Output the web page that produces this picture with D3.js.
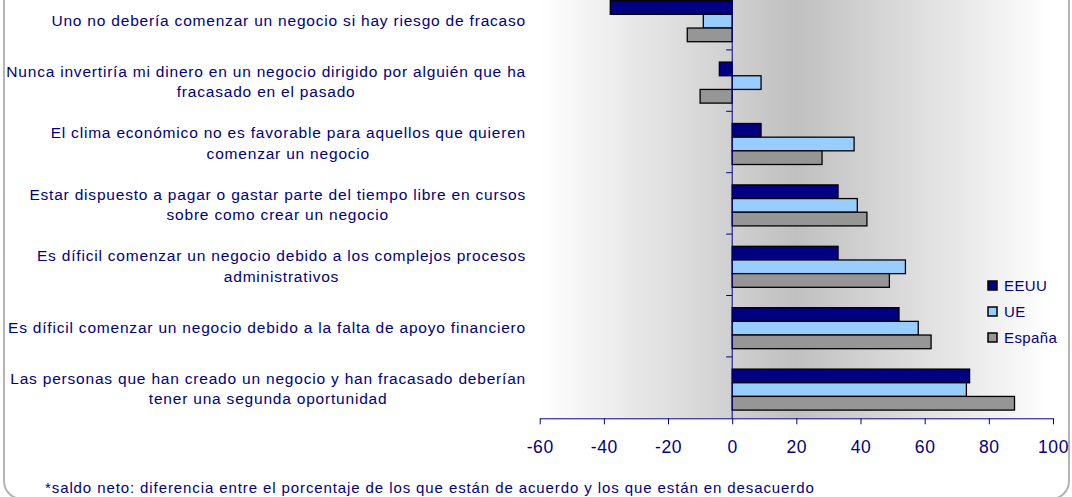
<!DOCTYPE html>
<html>
<head>
<meta charset="utf-8">
<style>
  body { margin: 0; background: #fff; }
  svg { display: block; font-family: "Liberation Sans", Arial, sans-serif; }
  .catLabel { font-size: 15.5px; fill: #000080; }
  .tickLabel { font-size: 17.5px; fill: #000080; }
  .legendText { font-size: 15px; fill: #000080; }
  .note { font-size: 15px; fill: #000080; }
</style>
</head>
<body>
<svg id="chart" width="1072" height="497"></svg>
<script src="https://d3js.org/d3.v7.min.js"></script>
<script>

// categories, top to bottom as shown
var categories = [
  ["Uno no debería comenzar un negocio si hay riesgo de fracaso"],
  ["Nunca invertiría mi dinero en un negocio dirigido por alguién que ha", "fracasado en el pasado"],
  ["El clima económico no es favorable para aquellos que quieren", "comenzar un negocio"],
  ["Estar dispuesto a pagar o gastar parte del tiempo libre en cursos", "sobre como crear un negocio"],
  ["Es díficil comenzar un negocio debido a los complejos procesos", "administrativos"],
  ["Es díficil comenzar un negocio debido a la falta de apoyo financiero"],
  ["Las personas que han creado un negocio y han fracasado deberían", "tener una segunda oportunidad"]
];

var seriesNames = ["EEUU", "UE", "España"];
var eeuu   = [-38, -4,  9, 33, 33, 52, 74];
var ue     = [ -9,  9, 38, 39, 54, 58, 73];
var espana = [-14, -10, 28, 42, 49, 62, 88];
var seriesColors = ["#000080", "#99ccff", "#969696"];

var xTicks = [-60, -40, -20, 0, 20, 40, 60, 80, 100];
var footnote = "*saldo neto: diferencia entre el porcentaje de los que están de acuerdo y los que están en desacuerdo";

var seriesValues = [eeuu, ue, espana];

var svg = d3.select("#chart");

// outer frame (top is cut off in the picture)
svg.append("rect")
    .attr("x", 4).attr("y", -32)
    .attr("width", 1065).attr("height", 531)
    .attr("rx", 18)
    .attr("fill", "#fff")
    .attr("stroke", "#b4b4b4")
    .attr("stroke-width", 2);

var x = d3.scaleLinear().domain([-60, 100]).range([539.7, 1053]);
var y0 = d3.scaleBand().domain(d3.range(categories.length)).range([-11.5, 418.3]);
var y1 = d3.scaleBand().domain(d3.range(seriesNames.length)).range([0, 41]);

// plot background gradient
var defs = svg.append("defs");
var grad = defs.append("linearGradient").attr("id", "bg")
    .attr("x1", "0%").attr("x2", "100%").attr("y1", "0%").attr("y2", "0%");
grad.append("stop").attr("offset", "0%").attr("stop-color", "#ffffff");
grad.append("stop").attr("offset", "50%").attr("stop-color", "#c0c0c0");
grad.append("stop").attr("offset", "100%").attr("stop-color", "#ffffff");

svg.append("rect")
    .attr("x", x(-60)).attr("y", y0.range()[0])
    .attr("width", x(100) - x(-60))
    .attr("height", y0.range()[1] - y0.range()[0])
    .attr("fill", "url(#bg)");

// bars
var groups = svg.selectAll("g.cat")
  .data(categories)
  .enter().append("g")
    .attr("class", "cat")
    .attr("transform", function(d, i) { return "translate(0," + (y0(i) + 12.2) + ")"; });

groups.selectAll("rect")
  .data(function(d, i) { return seriesValues.map(function(s, j) { return {s: j, v: s[i]}; }); })
  .enter().append("rect")
    .attr("x", function(d) { return x(Math.min(0, d.v)); })
    .attr("y", function(d) { return y1(d.s); })
    .attr("width", function(d) { return Math.abs(x(d.v) - x(0)); })
    .attr("height", y1.bandwidth())
    .attr("fill", function(d) { return seriesColors[d.s]; })
    .attr("stroke", "#000")
    .attr("stroke-width", 1.3);

// vertical axis at zero with ticks between categories
svg.append("line")
    .attr("x1", x(0)).attr("x2", x(0))
    .attr("y1", y0.range()[0]).attr("y2", y0.range()[1])
    .attr("stroke", "#000080").attr("stroke-width", 1);
svg.selectAll("line.ytick")
  .data(d3.range(1, categories.length))
  .enter().append("line")
    .attr("class", "ytick")
    .attr("x1", x(0) - 6).attr("x2", x(0))
    .attr("y1", function(i) { return y0(i); })
    .attr("y2", function(i) { return y0(i); })
    .attr("stroke", "#000080");

// bottom axis
var xAxis = svg.append("g")
    .attr("transform", "translate(0," + y0.range()[1] + ")")
    .call(d3.axisBottom(x).tickValues(xTicks).tickSize(6).tickSizeOuter(0).tickPadding(16)
      .tickFormat(function(d) { return String(d); }));
xAxis.attr("font-size", null).attr("font-family", null);
xAxis.select(".domain").attr("stroke", "#000080");
xAxis.selectAll(".tick line").attr("stroke", "#000080");
xAxis.selectAll(".tick text")
    .attr("class", "tickLabel")
    .attr("fill", "#000080")
    .style("letter-spacing", "0.6px");

// category labels: block right aligned, lines centered
var labelRight = 526;
svg.selectAll("g.label")
  .data(categories)
  .enter().append("g")
    .attr("class", "label")
    .each(function(lines, i) {
      var g = d3.select(this);
      var cy = y0(i) + y0.bandwidth() / 2 + 1;
      var lh = 20.5;
      var texts = g.selectAll("text").data(lines).enter().append("text")
          .attr("class", "catLabel")
          .style("letter-spacing", "0.8px")
          .attr("y", function(d, k) { return cy + (k - (lines.length - 1) / 2) * lh + 5.5; })
          .attr("text-anchor", "middle")
          .text(function(d) { return d; });
      var maxW = 0;
      texts.each(function() { maxW = Math.max(maxW, this.getComputedTextLength()); });
      texts.attr("x", labelRight - maxW / 2);
    });

// legend
var legend = svg.append("g").attr("transform", "translate(988,281)");
seriesNames.forEach(function(name, i) {
  legend.append("rect")
      .attr("x", 0).attr("y", i * 26)
      .attr("width", 9).attr("height", 9)
      .attr("fill", seriesColors[i])
      .attr("stroke", "#000").attr("stroke-width", 1.5);
  legend.append("text")
      .attr("class", "legendText")
      .attr("x", 16).attr("y", i * 26 + 10)
      .style("letter-spacing", "0.4px")
      .text(name);
});

// footnote
svg.append("text")
    .attr("class", "note")
    .attr("x", 45).attr("y", 493)
    .style("letter-spacing", "0.9px")
    .text(footnote);

</script>
</body>
</html>
